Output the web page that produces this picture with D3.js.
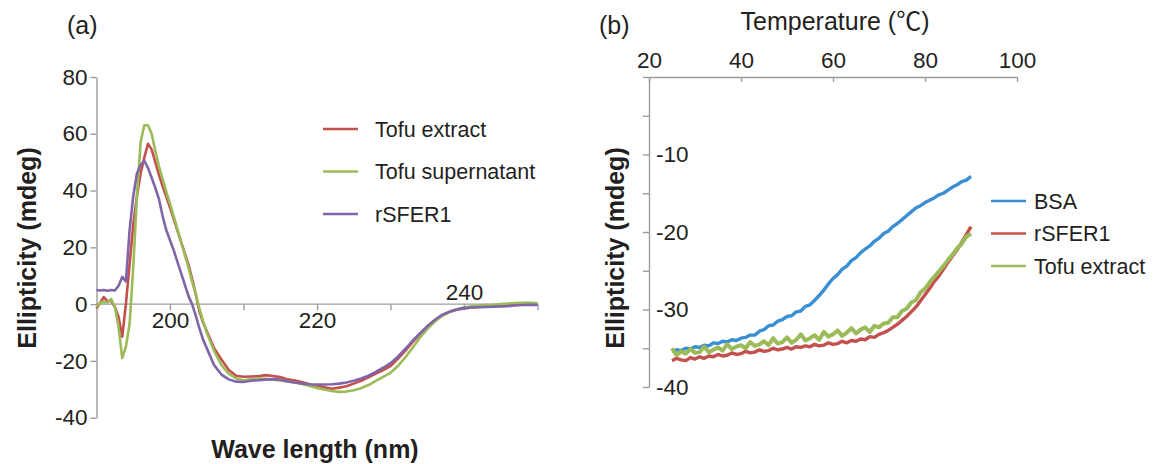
<!DOCTYPE html>
<html>
<head>
<meta charset="utf-8">
<script src="https://cdn.jsdelivr.net/npm/d3@7"></script>
<style>
  body { margin: 0; background: #fff; }
  svg { display: block; }
  text { font-family: "Liberation Sans", Arial, sans-serif; fill: #231f20; }
</style>
</head>
<body>
<div id="chart"></div>
<script>
// ---- panel (a): CD spectra ----
const wavelength = [
  190, 190.5, 191, 191.5, 192, 192.5, 193, 193.5, 194, 194.5, 195, 195.5, 196, 196.5, 197, 197.5,
  198, 198.5, 199, 199.5, 200, 200.5, 201, 201.5, 202, 202.5, 203, 203.5, 204, 204.5, 205,
  206, 207, 208, 209, 210, 211, 212, 213, 214, 215, 216, 217, 218, 219, 220, 221, 222, 223, 224,
  225, 226, 227, 228, 229, 230, 231, 232, 233, 234, 235, 236, 237, 238, 239, 240, 241, 242, 243,
  244, 245, 246, 247, 248, 249, 250
];
const tofuExtractA = [
  -1.5, 0.5, 2.5, 1.0, 1.2, -1.0, -4.5, -11.5, 0, 14, 28, 38, 46, 51.5, 56.5, 54.5,
  50, 45.5, 41.5, 37.8, 34, 30, 26, 22, 18, 14, 9, 3.5, -2.5, -6.5, -9.5,
  -15.5, -19.5, -23.2, -25.2, -25.6, -25.5, -25.4, -25.0, -25.3, -25.7, -26.5, -26.9, -27.5, -28.2, -28.8, -29.3, -29.8, -29.4, -28.9,
  -28.0, -27.0, -25.8, -24.5, -23.2, -21.8, -19.3, -16.5, -13.4, -10.6, -8.0, -5.8, -4.0, -2.8, -2.0, -1.5, -1.2, -1.0, -0.8,
  -0.6, -0.5, -0.3, -0.2, 0, 0.1, 0.1
];
const tofuSupernatant = [
  -1.0, 0.5, 0.8, 0.6, 1.8, -1.0, -8, -19, -15, -7, 13, 38, 57, 63, 63, 60,
  54, 48.5, 44, 39.5, 35.4, 31, 26.5, 22, 17.5, 13, 8, 3.5, -1.5, -6, -10,
  -16.5, -21.5, -24.5, -26.2, -26.8, -26.5, -26.2, -26.3, -26.6, -26.9, -27.2, -27.6, -28.1, -28.8, -29.5, -30.1, -30.6, -30.9, -30.8,
  -30.3, -29.6, -28.5, -27.0, -25.6, -24.2, -21.8, -18.8, -15.4, -11.8, -8.8, -6.2, -4.2, -2.8, -1.8, -1.2, -0.8, -0.5, -0.3,
  -0.2, 0, 0.2, 0.4, 0.5, 0.5, 0.3
];
const rSFER1A = [
  5.0, 4.8, 5.0, 4.7, 5.0, 4.8, 6.5, 9.6, 8, 26, 38, 46, 49, 50.5, 48, 44.5,
  41, 37, 31, 26, 22.5, 19, 15, 11, 7, 3, 0, -4, -8.5, -12.5, -15.5,
  -21.5, -24.8, -26.5, -27.3, -27.4, -27.0, -26.8, -26.6, -26.4, -26.6, -27.2, -27.6, -28.0, -28.2, -28.3, -28.3, -28.2, -28.0, -27.6,
  -27.0, -26.2, -25.2, -23.9, -22.4, -20.8, -18.5, -15.8, -12.9, -10.3, -7.8, -5.6, -3.8, -2.7, -1.9, -1.4, -1.2, -1.1, -1.0,
  -0.9, -0.8, -0.7, -0.5, -0.3, -0.2, -0.3
];
const seriesA = ['Tofu extract', 'Tofu supernatant', 'rSFER1'];
const ticksYA = [-40, -20, 0, 20, 40, 60, 80];
const ticksXA = [200, 210, 220, 230, 240, 250];
const labelsXA = [200, 220, 240];

// ---- panel (b): thermal denaturation ----
const temperature = [
  25, 26, 27, 28, 29, 30, 31, 32, 33, 34, 35, 36, 37, 38, 39, 40, 41, 42, 43, 44, 45, 46,
  47, 48, 49, 50, 51, 52, 53, 54, 55, 56, 57, 58, 59, 60, 61, 62, 63, 64, 65, 66, 67, 68,
  69, 70, 71, 72, 73, 74, 75, 76, 77, 78, 79, 80, 81, 82, 83, 84, 85, 86, 87, 88, 89, 90
];
const bsa = [
  -35.4, -35.2, -35.3, -35.0, -35.1, -34.8, -34.9, -34.6, -34.7, -34.3, -34.4, -34.1, -34.2, -33.9, -34.0, -33.7, -33.6, -33.3, -33.3, -32.8, -32.6, -32.1,
  -32.0, -31.5, -31.3, -30.9, -30.8, -30.3, -30.2, -29.6, -29.4, -28.8, -28.2, -27.5, -26.7, -26.0, -25.5, -24.8, -24.4, -23.7, -23.3, -22.7, -22.2, -21.8,
  -21.2, -20.8, -20.2, -19.9, -19.3, -18.9, -18.4, -17.9, -17.4, -16.9, -16.6, -16.2, -15.9, -15.6, -15.2, -15.0, -14.6, -14.2, -13.9, -13.5, -13.3, -12.8
];
const rSFER1B = [
  -36.6, -36.3, -36.5, -36.6, -36.2, -36.4, -36.1, -36.3, -36.0, -36.1, -35.8, -36.0, -35.9, -35.6, -35.8, -35.7, -35.4, -35.6, -35.5, -35.2, -35.4, -35.3,
  -35.0, -35.2, -35.1, -34.9, -35.1, -34.8, -34.9, -34.7, -34.8, -34.5, -34.7, -34.6, -34.3, -34.5, -34.4, -34.1, -34.3, -34.0, -34.1, -33.8, -33.9, -33.5,
  -33.6, -33.2, -33.0, -32.7, -32.3, -31.9, -31.4, -30.9, -30.3, -29.7, -28.9, -28.1, -27.3, -26.4, -25.7, -24.8, -23.9, -23.1, -22.3, -21.3, -20.3, -19.3
];
const tofuExtractB = [
  -35.0, -35.9, -35.4, -35.7, -35.1, -35.6, -35.5, -34.8, -35.5, -35.2, -34.9, -35.3, -34.5, -35.1, -34.8, -34.6, -35.0, -34.2, -34.7, -34.5, -34.1, -34.6,
  -33.7, -34.4, -34.2, -33.6, -34.3, -33.9, -33.2, -34.0, -33.7, -33.3, -33.9, -32.9, -33.5, -33.2, -32.7, -33.4, -33.0, -32.4, -33.1, -32.6, -32.3, -32.9,
  -32.1, -32.3, -31.8, -31.7, -31.0, -31.0, -30.2, -29.9, -29.1, -28.8, -27.8, -27.3, -26.5, -25.8, -25.1, -24.4, -23.6, -22.9, -22.1, -21.5, -20.6, -20.2
];
const seriesB = ['BSA', 'rSFER1', 'Tofu extract'];
const ticksXB = [20, 40, 60, 80, 100];
const ticksYB = [-40, -35, -30, -25, -20, -15, -10, -5, 0];
const labelsYB = [-10, -20, -30, -40];

const red = '#c4504e', green = '#9bbb59', purple = '#8066a8', blue = '#3a8fd2';
const axisColor = '#9d9d9d';
const plain = (d) => String(d); // hyphen minus, as in the original

const svg = d3.select('#chart').append('svg').attr('width', 1153).attr('height', 464);

function styleAxis(g) {
  g.select('.domain').attr('stroke', axisColor).attr('stroke-width', 1.4);
  g.selectAll('.tick line').attr('stroke', axisColor).attr('stroke-width', 1.4);
  g.selectAll('.tick text').style('font-size', '22.5px').attr('fill', '#231f20');
}

// ================= panel (a) =================
const xA = d3.scaleLinear().domain([190, 250]).range([96.5, 537.5]);
const yA = d3.scaleLinear().domain([-40, 80]).range([417.7, 77]);

svg.append('g')
  .attr('transform', 'translate(96.5,0)')
  .call(d3.axisLeft(yA).tickValues(ticksYA).tickSize(6).tickSizeOuter(0).tickPadding(3).tickFormat(plain))
  .call(styleAxis);

const xAxisA = svg.append('g')
  .attr('transform', 'translate(0,' + yA(0) + ')')
  .call(d3.axisBottom(xA).tickValues(ticksXA).tickSize(6).tickSizeOuter(0).tickPadding(2)
    .tickFormat((d) => (labelsXA.includes(d) ? d : '')))
  .call(styleAxis);
// the 240 label sits above the axis in the original
xAxisA.selectAll('.tick').filter((d) => d === 240).select('text').attr('y', -4).attr('dy', '0');
xAxisA.select('.domain').attr('d', 'M' + xA(190) + ',0H' + xA(250));

const linesA = [
  { name: seriesA[0], values: tofuExtractA, color: red },
  { name: seriesA[1], values: tofuSupernatant, color: green },
  { name: seriesA[2], values: rSFER1A, color: purple },
];
const lineA = d3.line().x((d) => xA(d[0])).y((d) => yA(d[1]));
linesA.forEach((s) => {
  svg.append('path')
    .datum(wavelength.map((w, i) => [w, s.values[i]]))
    .attr('fill', 'none')
    .attr('stroke', s.color)
    .attr('stroke-width', 2.6)
    .attr('stroke-linejoin', 'round')
    .attr('d', lineA);
});

// legend (a)
linesA.forEach((s, i) => {
  const y = 129 + i * 42.5;
  svg.append('line').attr('x1', 323).attr('x2', 358).attr('y1', y).attr('y2', y)
    .attr('stroke', s.color).attr('stroke-width', 2.6);
  svg.append('text').attr('x', 375).attr('y', y).attr('dy', '0.36em')
    .style('font-size', '21.5px').text(s.name);
});

// titles (a)
svg.append('text').attr('x', 67).attr('y', 34).style('font-size', '25px').text('(a)');
svg.append('text')
  .attr('transform', 'translate(36,' + 248 + ') rotate(-90)')
  .attr('text-anchor', 'middle').style('font-size', '25px').style('font-weight', 'bold')
  .text('Ellipticity (mdeg)');
svg.append('text').attr('x', 315).attr('y', 458)
  .attr('text-anchor', 'middle').style('font-size', '25px').style('font-weight', 'bold')
  .text('Wave length (nm)');

// ================= panel (b) =================
const xB = d3.scaleLinear().domain([20, 100]).range([649, 1017]);
const yB = d3.scaleLinear().domain([-40, 0]).range([387, 77]);

svg.append('g')
  .attr('transform', 'translate(0,' + yB(0) + ')')
  .call(d3.axisTop(xB).tickValues(ticksXB).tickSizeInner(-5).tickSizeOuter(0).tickPadding(9).tickFormat(plain))
  .call(styleAxis);

svg.append('g')
  .attr('transform', 'translate(' + xB(20) + ',0)')
  .call(d3.axisLeft(yB).tickValues(ticksYB).tickSize(6).tickSizeOuter(0).tickFormat(''))
  .call(styleAxis);

svg.append('g')
  .attr('transform', 'translate(' + xB(20) + ',0)')
  .call(d3.axisRight(yB).tickValues(labelsYB).tickSize(0).tickPadding(7).tickFormat(plain))
  .call(styleAxis)
  .call((g) => g.select('.domain').remove());

const linesB = [
  { name: seriesB[0], values: bsa, color: blue, w: 3.4 },
  { name: seriesB[1], values: rSFER1B, color: red, w: 3.4 },
  { name: seriesB[2], values: tofuExtractB, color: green, w: 4 },
];
const lineB = d3.line().x((d) => xB(d[0])).y((d) => yB(d[1]));
linesB.forEach((s) => {
  svg.append('path')
    .datum(temperature.map((t, i) => [t, s.values[i]]))
    .attr('fill', 'none')
    .attr('stroke', s.color)
    .attr('stroke-width', s.w)
    .attr('stroke-linejoin', 'round')
    .attr('d', lineB);
});

// legend (b)
linesB.forEach((s, i) => {
  const y = 201 + i * 32.5;
  svg.append('line').attr('x1', 991).attr('x2', 1026).attr('y1', y).attr('y2', y)
    .attr('stroke', s.color).attr('stroke-width', 2.6);
  svg.append('text').attr('x', 1034).attr('y', y).attr('dy', '0.36em')
    .style('font-size', '21.5px').text(s.name);
});

// titles (b)
svg.append('text').attr('x', 599).attr('y', 34).style('font-size', '25px').text('(b)');
svg.append('text').attr('x', 835).attr('y', 30)
  .attr('text-anchor', 'middle').style('font-size', '25px')
  .text('Temperature (')
  .append('tspan').style('font-family', '"Noto Sans CJK JP", sans-serif').text('℃')
  .select(function () { return this.parentNode; })
  .append('tspan').text(')');
svg.append('text')
  .attr('transform', 'translate(624,' + 248 + ') rotate(-90)')
  .attr('text-anchor', 'middle').style('font-size', '25px').style('font-weight', 'bold')
  .text('Ellipticity (mdeg)');
</script>
</body>
</html>
